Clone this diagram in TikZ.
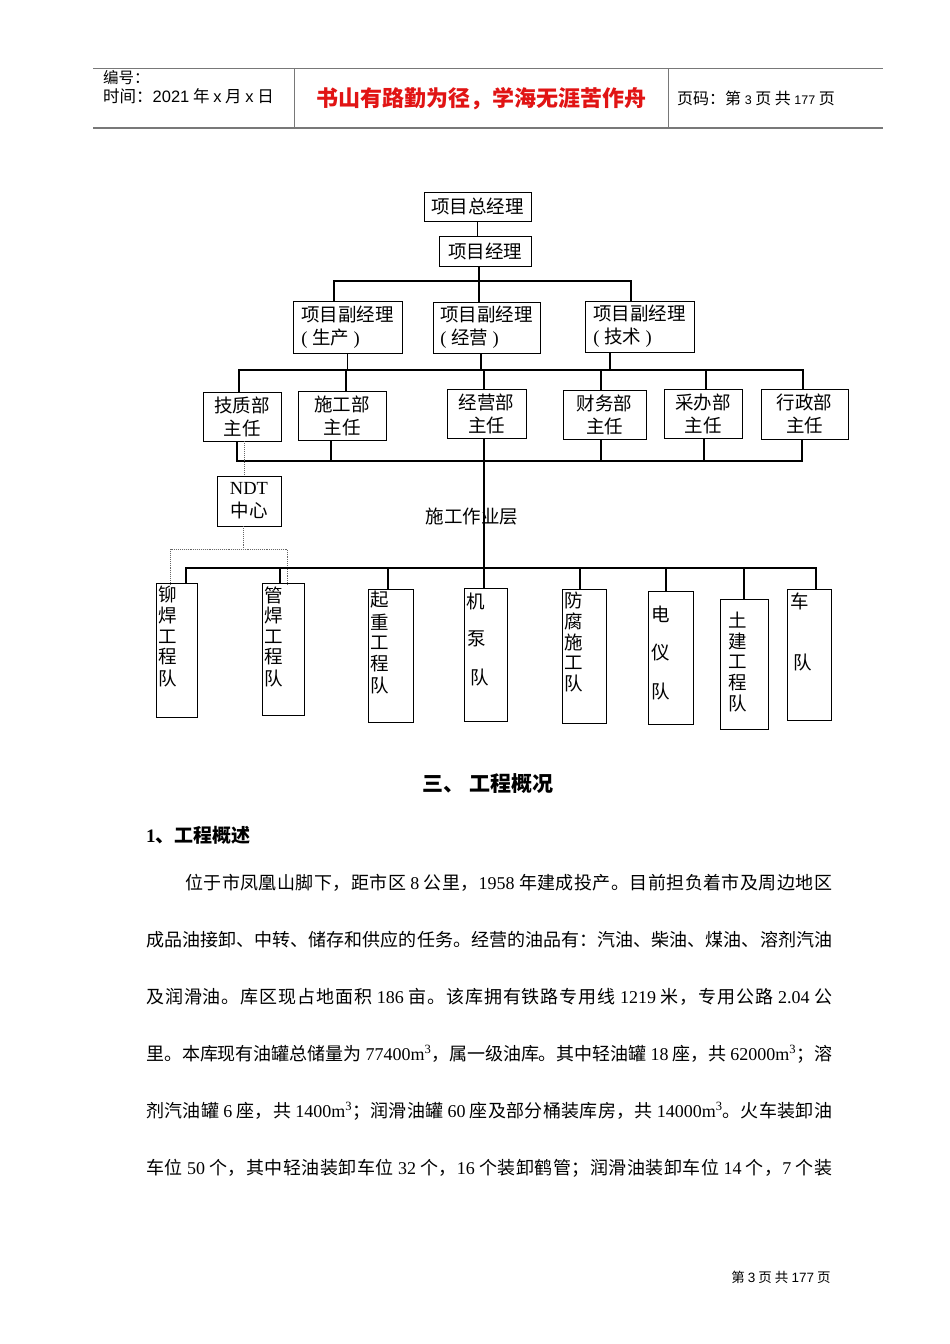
\documentclass[tikz,border=0pt]{standalone}
\usepackage{fontspec}
\setmainfont{Liberation Serif}
\newfontfamily\cjk{Noto Sans CJK SC}
\newfontfamily\tmf{Liberation Serif}
\newfontfamily\arf{Liberation Sans}
\newcommand\tmn[1]{{\tmf #1}}
\newcommand\arn[1]{{\arf #1}}
\XeTeXinterchartokenstate=1
\makeatletter
\count@="4E00
\loop \XeTeXcharclass\count@=7 \advance\count@ by 1 \ifnum\count@<"A000 \repeat
\count@="3000
\loop \XeTeXcharclass\count@=7 \advance\count@ by 1 \ifnum\count@<"3040 \repeat
\count@="FF00
\loop \XeTeXcharclass\count@=7 \advance\count@ by 1 \ifnum\count@<"FFF0 \repeat
\makeatother
\XeTeXinterchartoks 7 7 = {\hskip 0pt plus 3pt minus 1.5pt\relax}
\definecolor{hdrred}{RGB}{225,20,20}
\definecolor{hdrgray}{RGB}{120,120,120}
\newcommand\chartfont{\cjk\fontsize{18.5}{23}\selectfont}
\newcommand\bodyfont{\cjk\fontsize{18}{22}\selectfont}
\begin{document}
\begin{tikzpicture}[x=1pt,y=-1pt,
  box/.style={draw, line width=0.9pt, inner sep=0pt, font=\chartfont, align=center},
  dbox/.style={draw, line width=0.9pt, inner sep=0pt, font=\chartfont, align=left},
  tbox/.style={draw, line width=0.9pt, inner sep=0pt},
  tchar/.style={inner sep=0pt, anchor=west, font=\chartfont},
  conn/.style={line width=1.2pt},
  tbus/.style={line width=2pt},
  dots/.style={densely dotted, line width=0.9pt, black!60},
  hline/.style={hdrgray},
  txt/.style={inner sep=0pt, anchor=west},
]
\path[use as bounding box, fill=white] (0,0) rectangle (950,1344);

% ---------- header ----------
\draw[hline, line width=1pt] (93,68) -- (883,68);
\draw[hline, line width=2pt] (93,128) -- (883,128);
\draw[hline, line width=1pt] (294,68) -- (294,128);
\draw[hline, line width=1pt] (668,68) -- (668,128);
\node[txt, font=\cjk\fontsize{15.5}{15}\selectfont] (hno) at (103,78) {编号：};
\node[txt, font=\cjk\fontsize{16.5}{15}\selectfont] (hdate) at (103,96)
  {时间：\arn{2021} 年 \arn{x} 月 \arn{x} 日};
\node[inner sep=0pt, font=\cjk\bfseries\fontsize{22}{22}\selectfont, text=hdrred] (hmotto) at (481,99)
  {书山有路勤为径，学海无涯苦作舟};
\node[txt, font=\cjk\fontsize{16}{15}\selectfont] (hpage) at (677,98)
  {页码：第 {\arf\fontsize{12.5}{12}\selectfont 3} 页 共 {\arf\fontsize{12.5}{12}\selectfont 177} 页};

% ---------- org chart boxes ----------
\node[box, minimum width=107pt, minimum height=29pt] (gm) at (477.5,206.5) {项目总经理};
\node[box, minimum width=92pt, minimum height=30pt] (pm) at (485,251) {项目经理};

\node[dbox, minimum width=109pt, minimum height=52pt] (d1) at (347.5,327) {项目副经理\\\tmn{( }生产\tmn{ )}};
\node[dbox, minimum width=107pt, minimum height=51pt] (d2) at (486.5,327.5) {项目副经理\\\tmn{( }经营\tmn{ )}};
\node[dbox, minimum width=109pt, minimum height=51pt] (d3) at (639.5,326.5) {项目副经理\\\tmn{( }技术\tmn{ )}};

\node[box, minimum width=78pt, minimum height=49pt] (q1) at (242,416.5) {技质部\\主任};
\node[box, minimum width=88pt, minimum height=49pt] (q2) at (342,415.5) {施工部\\主任};
\node[box, minimum width=79pt, minimum height=49pt] (q3) at (486.5,413.5) {经营部\\主任};
\node[box, minimum width=83pt, minimum height=49pt] (q4) at (604.5,414.5) {财务部\\主任};
\node[box, minimum width=78pt, minimum height=49pt] (q5) at (703,413.5) {采办部\\主任};
\node[box, minimum width=87pt, minimum height=50pt] (q6) at (804.5,414) {行政部\\主任};

\node[box, minimum width=64pt, minimum height=50pt] (ndt) at (249,501) {\tmn{NDT}\\中心};
\node[inner sep=0pt, font=\chartfont] (layer) at (472,517) {施工作业层};

\node[tbox, minimum width=41pt, minimum height=134pt] (t1) at (176.5,650) {};
\node[tbox, minimum width=42pt, minimum height=132pt] (t2) at (283,649) {};
\node[tbox, minimum width=45pt, minimum height=133pt] (t3) at (390.5,655.5) {};
\node[tbox, minimum width=43pt, minimum height=133pt] (t4) at (485.5,654.5) {};
\node[tbox, minimum width=44pt, minimum height=134pt] (t5) at (584,656) {};
\node[tbox, minimum width=45pt, minimum height=133pt] (t6) at (670.5,657.5) {};
\node[tbox, minimum width=48pt, minimum height=130pt] (t7) at (744,664) {};
\node[tbox, minimum width=44pt, minimum height=131pt] (t8) at (809,654.5) {};

\foreach \xx/\yy/\ch [count=\k] in {158/595/铆,158/616/焊,158/637/工,158/657/程,158/678/队} {\node[tchar] (t1c\k) at (\xx,\yy) {\ch};}
\foreach \xx/\yy/\ch [count=\k] in {264/595/管,264/616/焊,264/637/工,264/657/程,264/678/队} {\node[tchar] (t2c\k) at (\xx,\yy) {\ch};}
\foreach \xx/\yy/\ch [count=\k] in {370/600/起,370/622/重,370/643/工,370/664/程,370/685/队} {\node[tchar] (t3c\k) at (\xx,\yy) {\ch};}
\foreach \xx/\yy/\ch [count=\k] in {466/601/机,467/639/泵,470/677/队} {\node[tchar] (t4c\k) at (\xx,\yy) {\ch};}
\foreach \xx/\yy/\ch [count=\k] in {564/600/防,564/621/腐,564/642/施,564/663/工,564/683/队} {\node[tchar] (t5c\k) at (\xx,\yy) {\ch};}
\foreach \xx/\yy/\ch [count=\k] in {651/614/电,651/653/仪,651/691/队} {\node[tchar] (t6c\k) at (\xx,\yy) {\ch};}
\foreach \xx/\yy/\ch [count=\k] in {728/620/土,728/641/建,728/662/工,728/683/程,728/703/队} {\node[tchar] (t7c\k) at (\xx,\yy) {\ch};}
\foreach \xx/\yy/\ch [count=\k] in {790/601/车,793/662/队} {\node[tchar] (t8c\k) at (\xx,\yy) {\ch};}

% ---------- connectors ----------
\draw[conn] (gm.south) -- (gm.south |- pm.north);
\coordinate (hub1) at (479,281);
\draw[conn] (pm.south -| hub1) -- (hub1);
\draw[conn] ([xshift=-13.5pt]d1.north) |- (hub1) -| ([xshift=-8.5pt]d3.north);
\draw[conn] (hub1) -- ([xshift=-7.5pt]d2.north);

\coordinate (bus2) at (0,370);
\draw[conn] ([xshift=-3pt]q1.north) |- ([xshift=-1.5pt]q6.north |- bus2) -- ([xshift=-1.5pt]q6.north);
\draw[conn] (d1.south) -- (d1.south |- bus2);
\draw[conn] ([xshift=-5.5pt]d2.south) -- ([xshift=-5.5pt]d2.south |- bus2);
\draw[conn] ([xshift=-29.5pt]d3.south) -- ([xshift=-29.5pt]d3.south |- bus2);
\draw[conn] ([xshift=4pt]q2.north) -- ([xshift=4pt]q2.north |- bus2);
\draw[conn] ([xshift=-2.5pt]q3.north) -- ([xshift=-2.5pt]q3.north |- bus2);
\draw[conn] ([xshift=-3.5pt]q4.north) -- ([xshift=-3.5pt]q4.north |- bus2);
\draw[conn] ([xshift=3pt]q5.north) -- ([xshift=3pt]q5.north |- bus2);

\coordinate (bus3) at (0,461);
\draw[conn] ([xshift=-5pt]q1.south) |- ([xshift=-2.5pt]q6.south |- bus3) -- ([xshift=-2.5pt]q6.south);
\draw[conn] ([xshift=-11pt]q2.south) -- ([xshift=-11pt]q2.south |- bus3);
\draw[conn] ([xshift=-3.5pt]q4.south) -- ([xshift=-3.5pt]q4.south |- bus3);
\draw[conn] ([xshift=1pt]q5.south) -- ([xshift=1pt]q5.south |- bus3);
\draw[conn] ([xshift=-2.5pt]q3.south) -- ([xshift=-2.5pt]q3.south |- t4.north);

\draw[dots] ([xshift=2pt]q1.south) -- ([xshift=2pt]q1.south |- ndt.north);
\coordinate (dj) at (243,549);
\draw[dots] ([xshift=-6pt]ndt.south) -- (dj);
\draw[dots] ([xshift=-6.5pt,yshift=-2pt]t1.north) |- (dj) -| ([xshift=4.5pt,yshift=-2pt]t2.north);

\coordinate (bus4) at (0,568);
\draw[tbus] ([xshift=9.5pt]t1.north) |- ([xshift=7pt]t8.north |- bus4) -- ([xshift=7pt]t8.north);
\draw[conn] ([xshift=-3pt]t2.north) -- ([xshift=-3pt]t2.north |- bus4);
\draw[conn] ([xshift=-2.5pt]t3.north) -- ([xshift=-2.5pt]t3.north |- bus4);
\draw[conn] ([xshift=-4pt]t5.north) -- ([xshift=-4pt]t5.north |- bus4);
\draw[conn] ([xshift=-4.5pt]t6.north) -- ([xshift=-4.5pt]t6.north |- bus4);
\draw[conn] (t7.north) -- ([yshift=1pt]t7.north |- bus4);

% ---------- body text ----------
\node[inner sep=0pt, font=\cjk\bfseries\fontsize{21}{21}\selectfont] (h3) at (488,784) {三、 工程概况};
\node[txt, font=\cjk\bfseries\fontsize{19}{19}\selectfont] (h31) at (146,835) {{\tmf\bfseries 1}、工程概述};

\node[txt, font=\bodyfont] (p1) at (185,883) {\hbox to 647pt{位于市凤凰山脚下，距市区\ \tmn{8}\ 公里，\tmn{1958}\ 年建成投产。目前担负着市及周边地区}};
\node[txt, font=\bodyfont] (p2) at (146,940) {\hbox to 686pt{成品油接卸、中转、储存和供应的任务。经营的油品有：汽油、柴油、煤油、溶剂汽油}};
\node[txt, font=\bodyfont] (p3) at (146,997) {\hbox to 686pt{及润滑油。库区现占地面积\ \tmn{186}\ 亩。该库拥有铁路专用线\ \tmn{1219}\ 米，专用公路\ \tmn{2.04}\ 公}};
\node[txt, font=\bodyfont] (p4) at (146,1054) {\hbox to 686pt{里。本库现有油罐总储量为\ \tmn{77400m\textsuperscript{3}}，属一级油库。其中轻油罐\ \tmn{18}\ 座，共\ \tmn{62000m\textsuperscript{3}}；溶}};
\node[txt, font=\bodyfont] (p5) at (146,1111) {\hbox to 686pt{剂汽油罐\ \tmn{6}\ 座，共\ \tmn{1400m\textsuperscript{3}}；润滑油罐\ \tmn{60}\ 座及部分桶装库房，共\ \tmn{14000m\textsuperscript{3}}。火车装卸油}};
\node[txt, font=\bodyfont] (p6) at (146,1168) {\hbox to 686pt{车位\ \tmn{50}\ 个，其中轻油装卸车位\ \tmn{32}\ 个，\tmn{16}\ 个装卸鹤管；润滑油装卸车位\ \tmn{14}\ 个，\tmn{7}\ 个装}};

\node[inner sep=0pt, font=\cjk\fontsize{13.5}{13}\selectfont] (foot) at (781,1277)
  {第 \arn{3} 页 共 \arn{177} 页};
\end{tikzpicture}
\end{document}
